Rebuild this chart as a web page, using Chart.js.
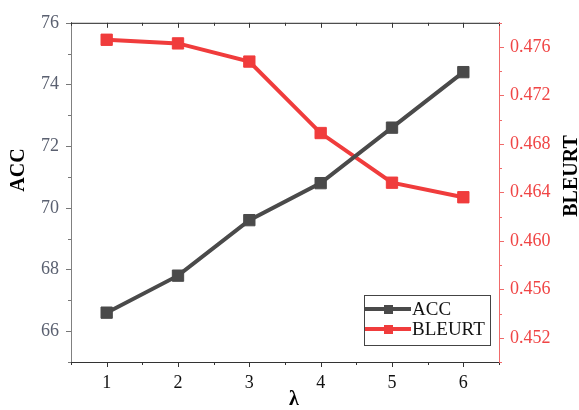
<!DOCTYPE html>
<html>
<head>
    <meta charset="UTF-8">
    <title>ACC / BLEURT vs lambda</title>
    <style>
        html, body { margin: 0; padding: 0; background: #fff; }
        .box { width: 579px; height: 410px; }
    </style>
</head>
<body>
<div class="box">
    <canvas id="myChart" width="579" height="410"></canvas>
</div>
<script src="https://cdn.jsdelivr.net/npm/chart.js@4.4.1/dist/chart.umd.min.js"></script>
<script>
    // values
    var lambdas = [1, 2, 3, 4, 5, 6];
    var accValues = [66.6, 67.8, 69.6, 70.8, 72.6, 74.4];
    var bleurtValues = [0.4766, 0.4763, 0.4748, 0.4689, 0.4648, 0.4636];

    var xTicks = [1, 2, 3, 4, 5, 6];
    var accTicks = [66, 68, 70, 72, 74, 76];
    var bleurtTicks = [0.452, 0.456, 0.460, 0.464, 0.468, 0.472, 0.476];

    var serif = '"Liberation Serif", "Times New Roman", Times, serif';
    var accColor = '#4a4a4a';
    var bleurtColor = '#f03c3c';

    function toPoints(xs, ys) {
        return xs.map(function (x, i) { return { x: x, y: ys[i] }; });
    }

    // minor ticks, titles, top frame and legend
    var extras = {
        id: 'extras',
        afterDraw: function (chart) {
            var ctx = chart.ctx;
            var a = chart.chartArea;
            var xs = chart.scales.x, y = chart.scales.y, y2 = chart.scales.y2;
            ctx.save();

            // top frame
            ctx.strokeStyle = '#222';
            ctx.lineWidth = 1;
            ctx.beginPath();
            ctx.moveTo(a.left, a.top + 0.5);
            ctx.lineTo(a.right, a.top + 0.5);
            ctx.stroke();

            // x ticks (bottom outward, top inward)
            var v, p, len;
            for (v = 0.5; v <= 6.5; v += 0.5) {
                p = Math.round(xs.getPixelForValue(v)) + 0.5;
                len = (v % 1 === 0) ? 5 : 3;
                ctx.strokeStyle = '#333';
                ctx.beginPath();
                ctx.moveTo(p, a.bottom); ctx.lineTo(p, a.bottom + len);
                ctx.moveTo(p, a.top); ctx.lineTo(p, a.top + len);
                ctx.stroke();
            }
            // left ticks
            ctx.strokeStyle = '#777';
            for (v = 65; v <= 76; v += 1) {
                p = Math.round(y.getPixelForValue(v)) + 0.5;
                len = (v % 2 === 0) ? 5 : 3;
                ctx.beginPath();
                ctx.moveTo(a.left - len, p); ctx.lineTo(a.left, p);
                ctx.stroke();
            }
            // right ticks
            ctx.strokeStyle = '#f06a6a';
            for (var k = 0; k <= 14; k++) {
                v = 0.450 + k * 0.002;
                p = Math.round(y2.getPixelForValue(v)) + 0.5;
                len = (k % 2 === 1) ? 5 : 3;
                ctx.beginPath();
                ctx.moveTo(a.right, p); ctx.lineTo(a.right + len, p);
                ctx.stroke();
            }

            // axis titles
            ctx.fillStyle = '#000';
            ctx.font = 'bold 20px ' + serif;
            ctx.textAlign = 'center';
            ctx.textBaseline = 'middle';
            ctx.save();
            ctx.translate(19, 170);
            ctx.rotate(-Math.PI / 2);
            ctx.fillText('ACC', 0, 0);
            ctx.restore();
            ctx.save();
            ctx.translate(572, 176);
            ctx.rotate(-Math.PI / 2);
            ctx.fillText('BLEURT', 0, 0);
            ctx.restore();
            ctx.textBaseline = 'top';
            ctx.fillText('\u03bb', 294, 390);

            // legend box
            var lx = 364, ly = 295, lw = 126, lh = 50;
            ctx.strokeStyle = '#444';
            ctx.lineWidth = 1;
            ctx.fillStyle = '#fff';
            ctx.fillRect(lx, ly, lw, lh);
            ctx.strokeRect(lx + 0.5, ly + 0.5, lw, lh);
            chart.data.datasets.forEach(function (ds, i) {
                var cy = ly + 14 + i * 20;
                ctx.strokeStyle = ds.borderColor;
                ctx.lineWidth = 4;
                ctx.beginPath();
                ctx.moveTo(lx + 1, cy); ctx.lineTo(lx + 47, cy);
                ctx.stroke();
                ctx.fillStyle = ds.borderColor;
                ctx.fillRect(lx + 20, cy - 4, 9, 9);
                ctx.fillStyle = '#111';
                ctx.font = '19px ' + serif;
                ctx.textAlign = 'left';
                ctx.textBaseline = 'middle';
                ctx.fillText(ds.label, lx + 48, cy + 1);
            });
            ctx.restore();
        }
    };

    function drawChart() {
        var ctx = document.getElementById('myChart').getContext('2d');
        new Chart(ctx, {
            type: 'line',
            data: {
                datasets: [{
                    label: 'ACC',
                    data: toPoints(lambdas, accValues),
                    borderColor: accColor,
                    backgroundColor: accColor,
                    borderWidth: 4,
                    pointStyle: 'rect',
                    pointRadius: 8,
                    pointBorderWidth: 1,
                    yAxisID: 'y'
                }, {
                    label: 'BLEURT',
                    data: toPoints(lambdas, bleurtValues),
                    borderColor: bleurtColor,
                    backgroundColor: bleurtColor,
                    borderWidth: 4,
                    pointStyle: 'rect',
                    pointRadius: 8,
                    pointBorderWidth: 1,
                    yAxisID: 'y2'
                }]
            },
            options: {
                responsive: false,
                animation: false,
                layout: { padding: { top: 15, left: 0, right: 0, bottom: 0 } },
                plugins: {
                    legend: { display: false },
                    tooltip: { enabled: false }
                },
                scales: {
                    x: {
                        type: 'linear',
                        min: 0.5,
                        max: 6.5,
                        afterBuildTicks: function (s) { s.ticks = xTicks.map(function (v) { return { value: v }; }); },
                        afterFit: function (s) { s.height = 48; },
                        grid: { display: true, drawOnChartArea: false, drawTicks: false },
                        border: { display: true, color: '#333', width: 1 },
                        ticks: { padding: 10, color: '#111', font: { family: serif, size: 18 } }
                    },
                    y: {
                        position: 'left',
                        min: 65,
                        max: 76,
                        afterBuildTicks: function (s) { s.ticks = accTicks.map(function (v) { return { value: v }; }); },
                        afterFit: function (s) { s.width = 71; },
                        grid: { display: true, drawOnChartArea: false, drawTicks: false },
                        border: { display: true, color: '#808080', width: 1 },
                        ticks: { padding: 12, color: '#5a6070', font: { family: serif, size: 18 } }
                    },
                    y2: {
                        position: 'right',
                        min: 0.450,
                        max: 0.478,
                        afterBuildTicks: function (s) { s.ticks = bleurtTicks.map(function (v) { return { value: v }; }); },
                        afterFit: function (s) { s.width = 80; },
                        grid: { display: true, drawOnChartArea: false, drawTicks: false },
                        border: { display: true, color: '#f06a6a', width: 1 },
                        ticks: {
                            padding: 11,
                            color: '#f04545',
                            font: { family: serif, size: 18 },
                            callback: function (v) { return Number(v).toFixed(3); }
                        }
                    }
                }
            },
            plugins: [extras]
        });
    }

    if (document.fonts && document.fonts.load) {
        Promise.all([
            document.fonts.load('18px "Liberation Serif"'),
            document.fonts.load('bold 20px "Liberation Serif"')
        ]).then(drawChart, drawChart);
    } else {
        drawChart();
    }
</script>
</body>
</html>
